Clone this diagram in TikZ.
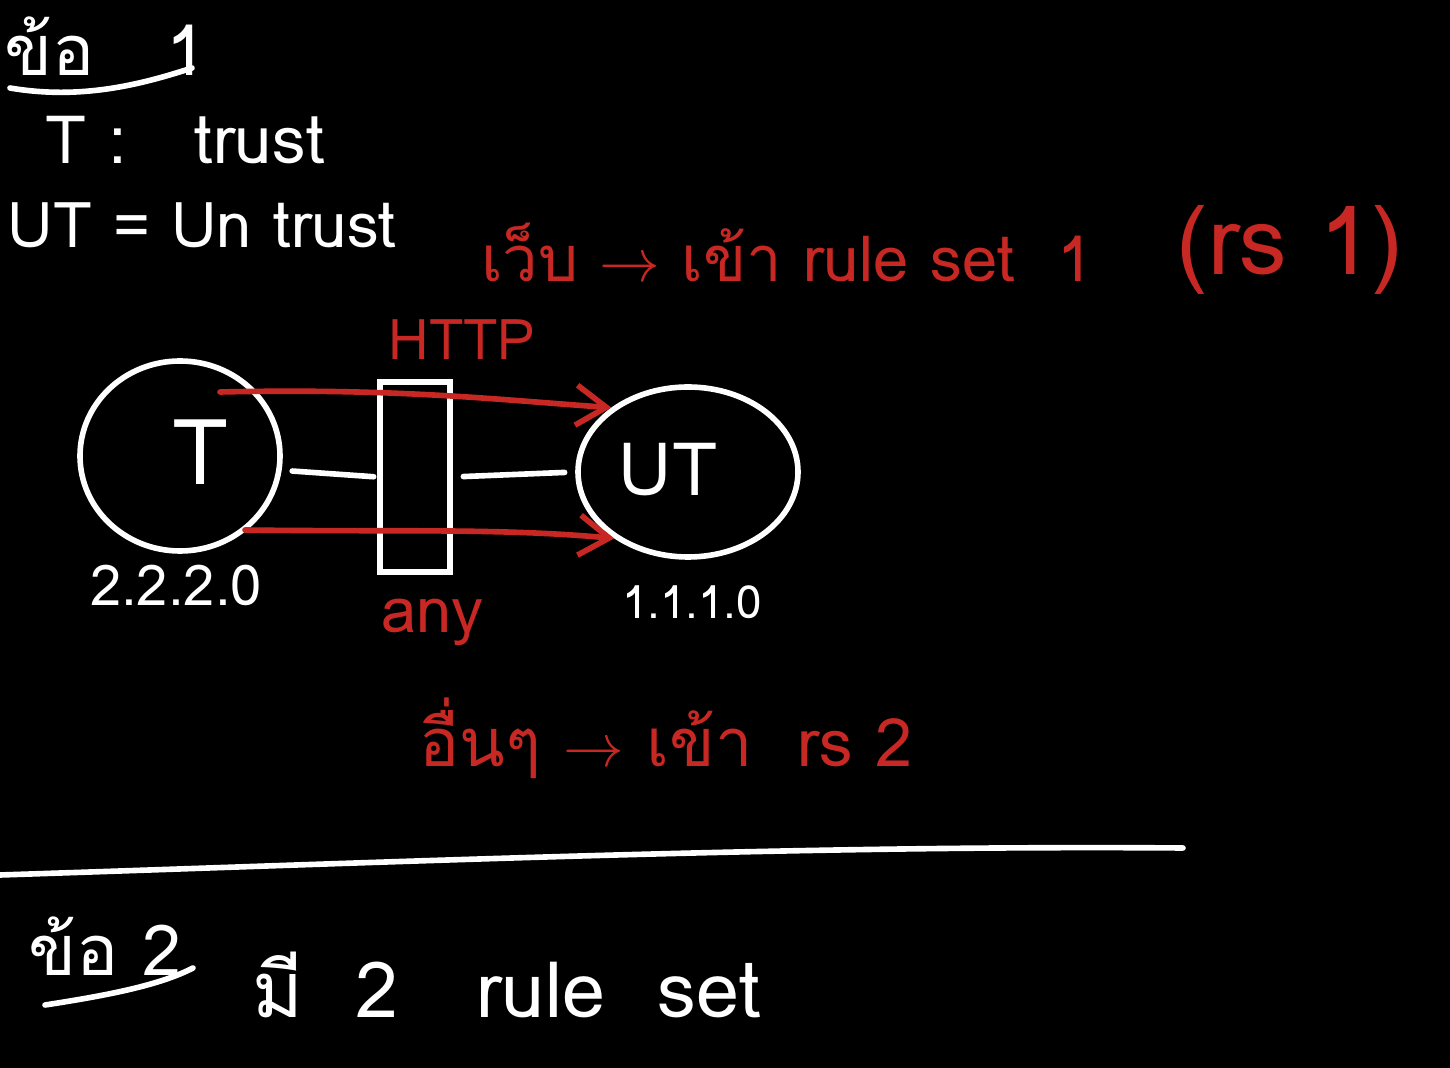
\documentclass[tikz,border=0pt]{standalone}
\usepackage{fontspec}
\setmainfont{Loma}[Script=Thai]
\usetikzlibrary{arrows.meta, positioning, shapes.geometric, calc}
\definecolor{penred}{RGB}{200,40,35}
\tikzset{
  whitetxt/.style={text=white, font=\fontsize{#1}{#1}\selectfont, inner sep=1pt},
  redtxt/.style={text=penred, font=\fontsize{#1}{#1}\selectfont, inner sep=1pt},
  hostnode/.style={draw=white, ellipse, line width=1.6pt, minimum width=#1},
  wallbox/.style={draw=white, line width=1.6pt, minimum width=7mm, minimum height=19mm},
  penline/.style={white, line width=1.6pt, line cap=round},
  redarrow/.style={-{Straight Barb[length=3mm, width=4mm]}, penred, line width=1.6pt, line cap=round},
}

\begin{document}
\begin{tikzpicture}[x=0.1mm, y=-0.1mm]
  \fill[black] (0,0) rectangle (1450,1068);
  \useasboundingbox (0,0) rectangle (1450,1068);

  % notes on the left
  \node[whitetxt=20] (q1) at (105,46) {ข้อ \ \ 1};
  \draw[penline] (10,88) .. controls (80,100) and (140,85) .. (192,68);
  \node[whitetxt=19] (tdef) at (185,140) {T :\ \ \ trust};
  \node[whitetxt=18] (utdef) at (202,225) {UT = Un trust};

  % rules
  \node[redtxt=18] (web) at (787,252) {เว็บ $\rightarrow$ เข้า rule set \ 1};
  \node[redtxt=27] (rs1) at (1290,250) {(rs 1)};

  % hosts and firewall
  \node[hostnode=20mm, minimum height=19mm] (tc) at (180,456) {};
  \node[whitetxt=26] (tlbl) at (200,452) {T};
  \node[whitetxt=16] (tnet) at (176,585) {2.2.2.0};
  \node[wallbox] (fw) at (415,477) {};
  \node[hostnode=22mm, minimum height=17mm] (ut) at (688,472) {};
  \node[whitetxt=21] (utlbl) at (668,470) {UT};
  \node[whitetxt=13] (unet) at (692,602) {1.1.1.0};
  \draw[penline, shorten <=3pt, shorten >=1pt] (tc.-8) -- (fw.west);
  \draw[penline, shorten <=3pt, shorten >=3pt] (fw.east) -- (ut.west);

  % traffic
  \node[redtxt=16] (http) at (462,340) {HTTP};
  \node[redtxt=18] (any) at (432,622) {any};
  \coordinate (tin1) at (220,392);
  \coordinate (tin2) at (245,530);
  \draw[redarrow] (tin1) .. controls (400,388) and (500,400) .. (ut.140);
  \draw[redarrow] (tin2) .. controls (400,532) and (500,528) .. (ut.222);

  \node[redtxt=19] (other) at (666,738) {อื่นๆ $\rightarrow$ เข้า \ rs 2};

  % part 2
  \draw[penline] (0,875) .. controls (400,862) and (800,845) .. (1183,848);
  \node[whitetxt=20] (q2) at (105,946) {ข้อ 2};
  \draw[penline] (45,1005) .. controls (110,995) and (160,985) .. (193,968);
  \node[whitetxt=22] (two) at (507,985) {มี \ 2 \ \ rule \ set};
\end{tikzpicture}
\end{document}
